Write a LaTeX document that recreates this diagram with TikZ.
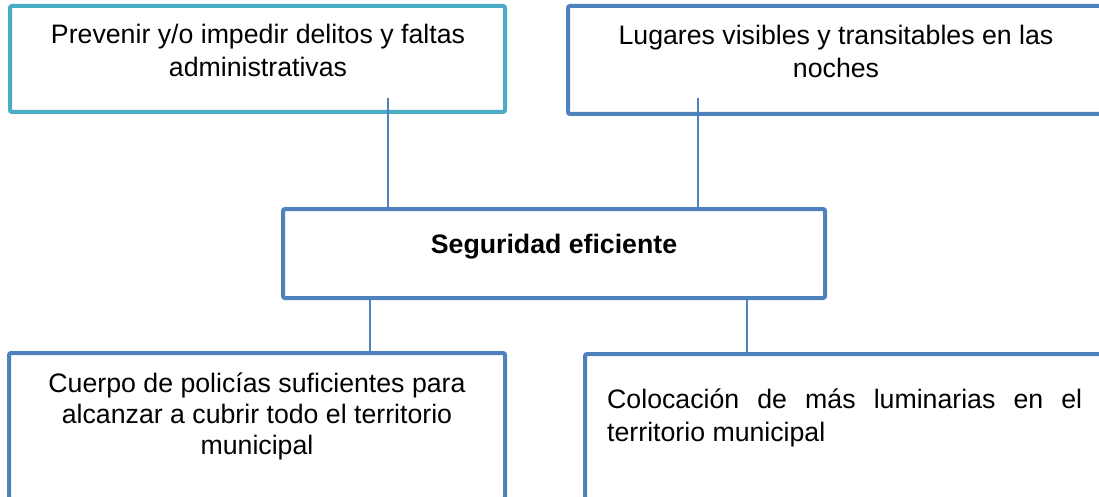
\documentclass[tikz,border=0pt]{standalone}
\usepackage{fontspec}
\setmainfont{Liberation Sans}
\usepackage{xcolor}
\usetikzlibrary{positioning}
\definecolor{boxteal}{RGB}{75,172,198}
\definecolor{boxblue}{RGB}{79,129,189}

\begin{document}
\begin{tikzpicture}[
  x=1pt,y=-1pt,
  frame/.style={draw=boxblue, line width=4pt, rounded corners=2pt, inner sep=0pt},
  txt/.style={inner sep=0pt, align=center, font=\fontsize{26.7}{33}\selectfont},
  link/.style={draw=boxblue, line width=1.6pt}
]
\useasboundingbox (0,0) rectangle (1099,497);
\clip (0,0) rectangle (1099,497);
\fill[white] (0,0) rectangle (1099,497);

% boxes
\node[frame, draw=boxteal, minimum width=495pt, minimum height=106pt] (prevbox) at (257.5,59) {};
\node[frame, minimum width=536pt, minimum height=108pt] (lugbox) at (836,60) {};
\node[frame, minimum width=542pt, minimum height=89pt] (segbox) at (554,253.5) {};
\node[frame, minimum width=496pt, minimum height=146pt] (polbox) at (257,426) {};
\node[frame, minimum width=519pt, minimum height=145pt] (lumbox) at (844.5,426.5) {};

% texts
\node[txt, anchor=base] (prevtxt) at (258,77) {Prevenir y/o impedir delitos y faltas\\administrativas};
\node[txt, anchor=base] (lugtxt) at (836,78) {Lugares visibles y transitables en las\\noches};
\node[txt, anchor=base, font=\fontsize{26.7}{33}\selectfont\bfseries] (segtxt) at (554,253) {Seguridad eficiente};
\node[txt, anchor=base, font=\fontsize{26.7}{31}\selectfont] (poltxt) at (257,454) {Cuerpo de policías suficientes para\\alcanzar a cubrir todo el territorio\\municipal};
\node[txt, anchor=base west, align=justify, text width=475pt, font=\fontsize{26.7}{33}\selectfont] (lumtxt) at (607,408) {Colocación de más luminarias en el\linebreak territorio municipal};

% connectors
\coordinate (prevend) at (388,98);
\coordinate (lugend) at (698,98);
\draw[link] (prevend) -- (prevend |- segbox.north);
\draw[link] (lugend) -- (lugend |- segbox.north);
\draw[link] (segbox.south -| 370,0) -- (polbox.north -| 370,0);
\draw[link] (segbox.south -| 747,0) -- (lumbox.north -| 747,0);
\end{tikzpicture}
\end{document}
